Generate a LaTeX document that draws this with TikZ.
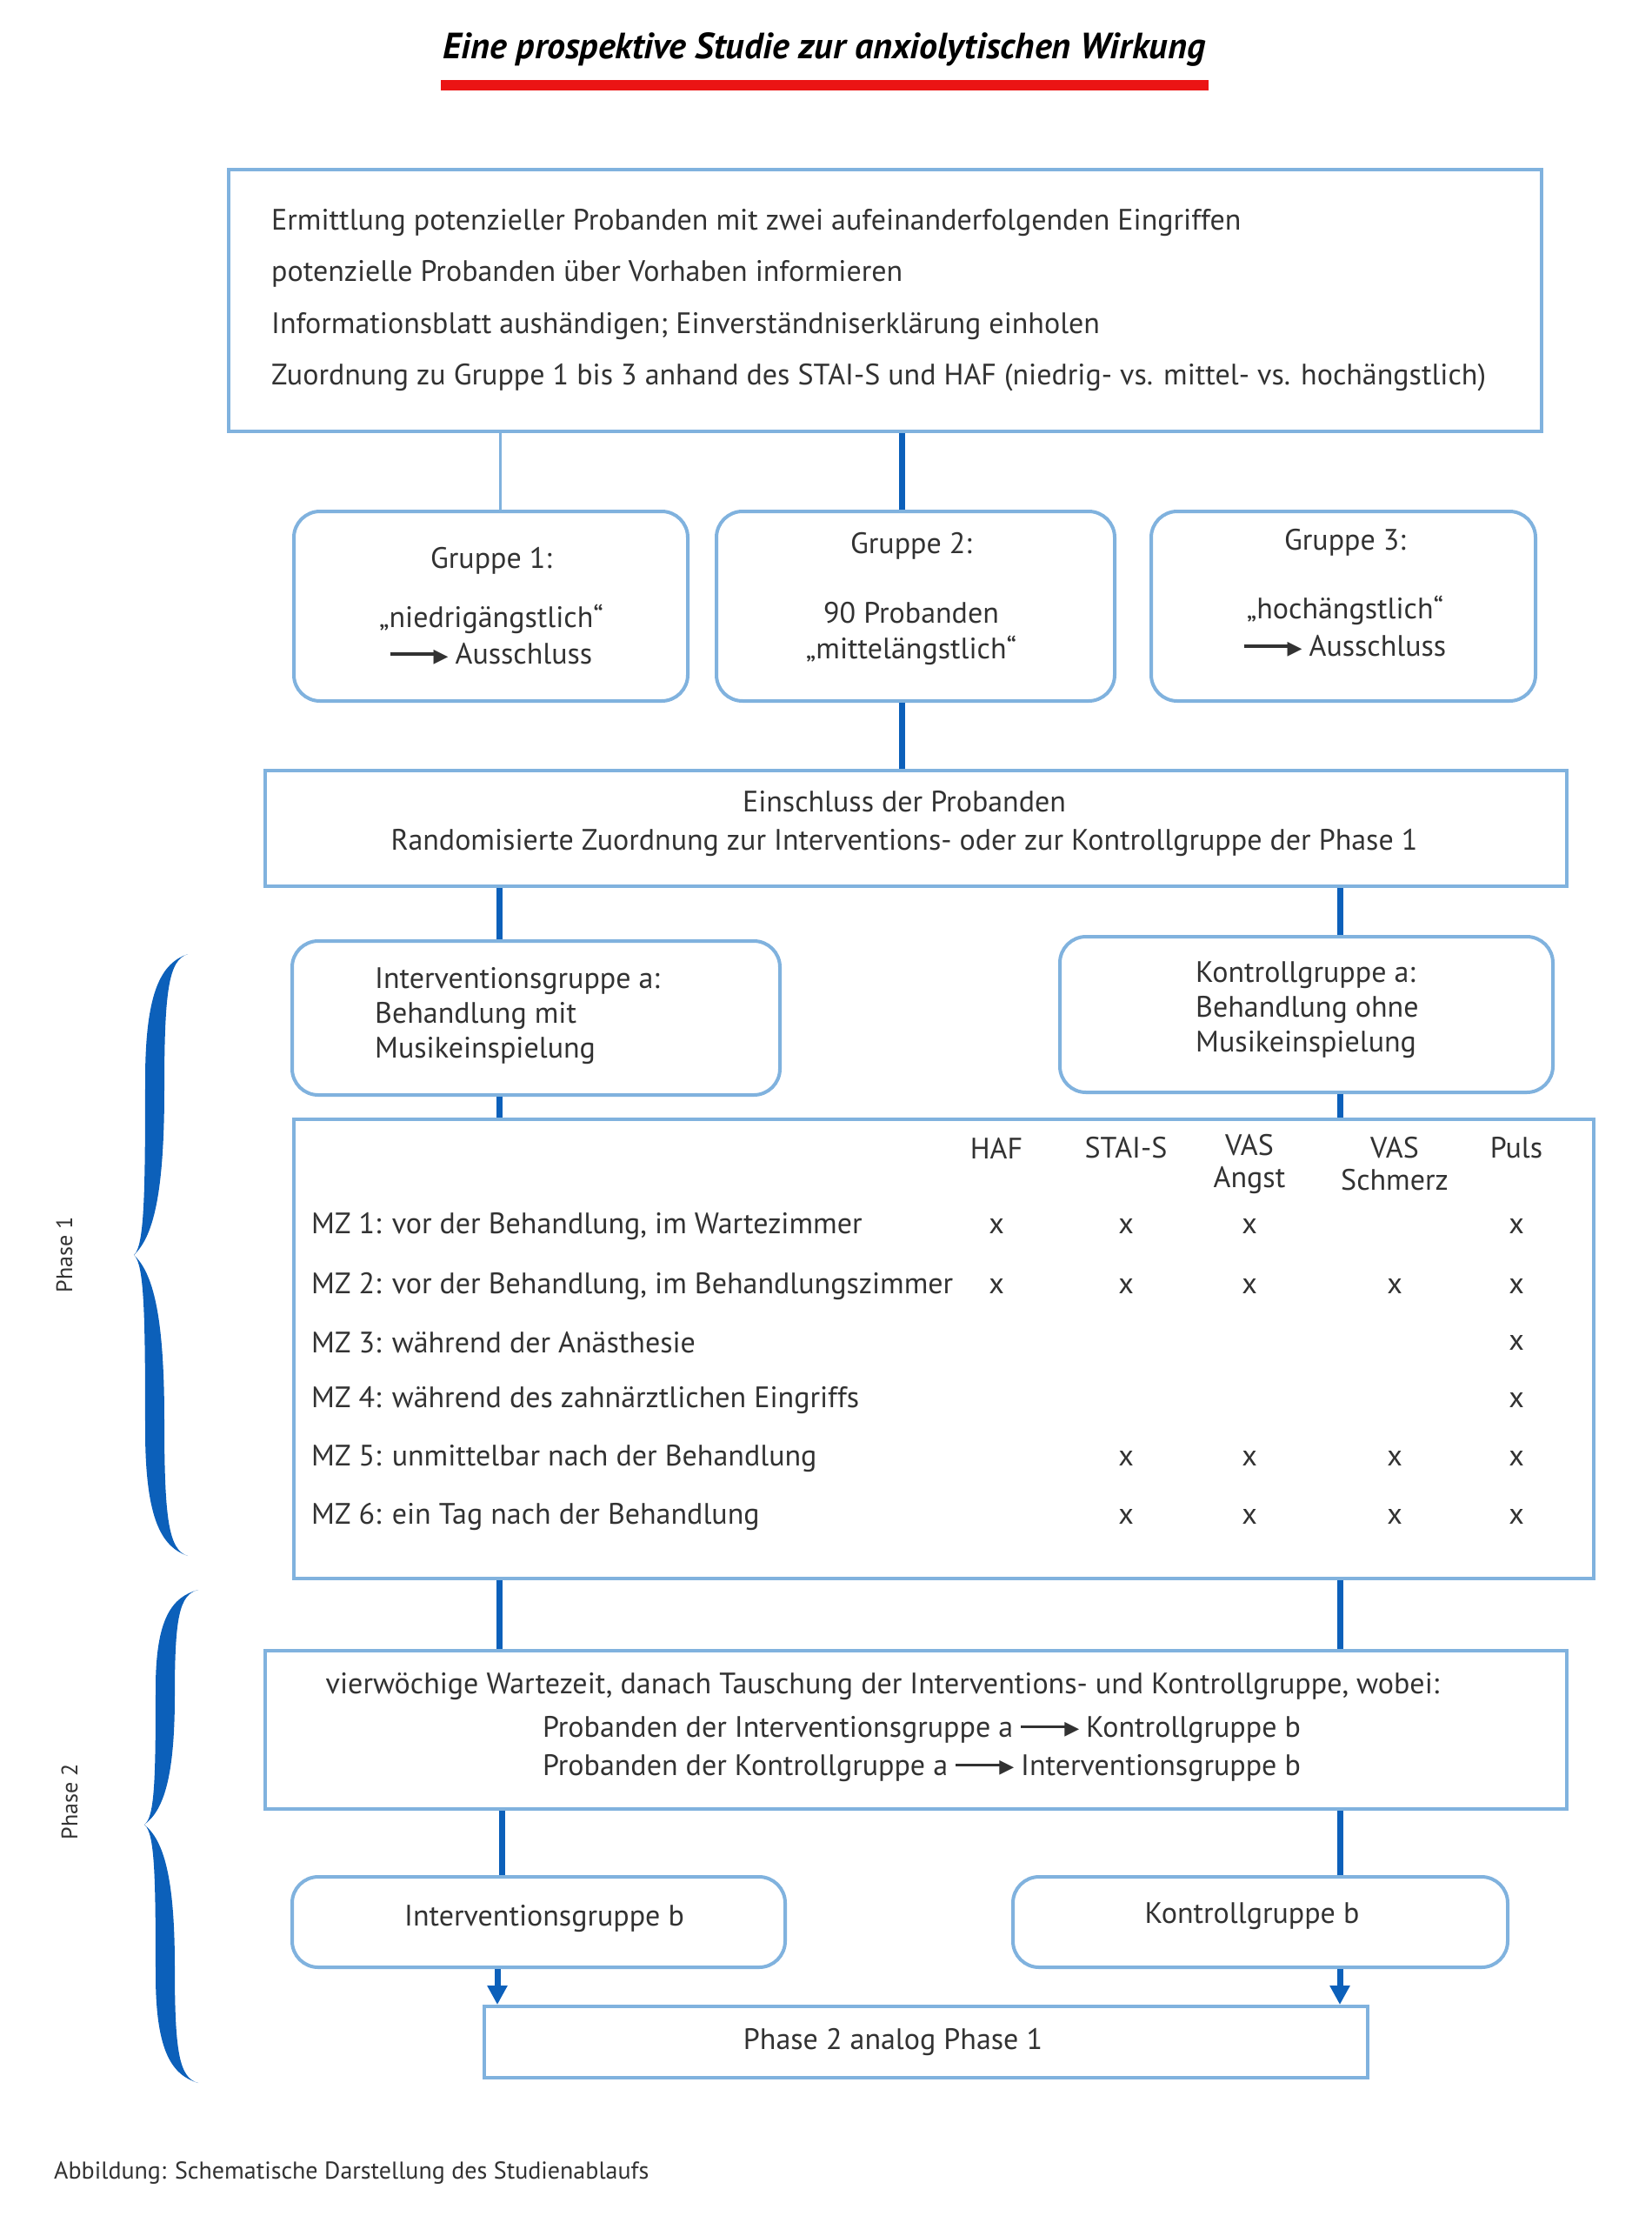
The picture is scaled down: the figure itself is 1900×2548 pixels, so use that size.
\documentclass[tikz,border=0pt]{standalone}
\usepackage{fontspec}
\setmainfont{PT Sans}
\newfontfamily\dejavu{DejaVu Sans}
\usetikzlibrary{arrows.meta}
\definecolor{boxblue}{RGB}{128,178,222}
\definecolor{linkblue}{RGB}{12,96,186}
\definecolor{txtgray}{RGB}{50,50,50}
\definecolor{titlered}{RGB}{235,20,20}
\newcommand{\bodyfont}{\fontsize{34}{40}\selectfont}
\newcommand{\harr}{\raisebox{0.3em}{\rule{52pt}{3.5pt}}\kern-2pt\raisebox{0.08em}{\dejavu\fontsize{22}{22}\selectfont ▶}\kern8pt}
\newcommand{\fancybrace}[5]{%
 \fill[#1] ({#2+38},{#3}) .. controls ({#2+8},{#3+0.03*(#4-#3)}) and ({#2-11},{#3+0.12*(#4-#3)}) .. ({#2-11},{#3+0.42*(#4-#3)})
 .. controls ({#2-11},{#3+0.8*(#4-#3)}) and ({#2-12},{#4-0.03*(#4-#3)}) .. ({#2-24},{#4})
 .. controls ({#2-12},{#4+0.03*(#5-#4)}) and ({#2-11},{#4+0.2*(#5-#4)}) .. ({#2-11},{#5-0.42*(#5-#4)})
 .. controls ({#2-11},{#5-0.12*(#5-#4)}) and ({#2+8},{#5-0.03*(#5-#4)}) .. ({#2+38},{#5})
 .. controls ({#2+16},{#5-0.02*(#5-#4)}) and ({#2+11},{#5-0.12*(#5-#4)}) .. ({#2+11},{#5-0.45*(#5-#4)})
 .. controls ({#2+11},{#4+0.2*(#5-#4)}) and ({#2-2},{#4+0.06*(#5-#4)}) .. ({#2-24},{#4})
 .. controls ({#2-2},{#4-0.06*(#4-#3)}) and ({#2+11},{#3+0.8*(#4-#3)}) .. ({#2+11},{#3+0.45*(#4-#3)})
 .. controls ({#2+11},{#3+0.12*(#4-#3)}) and ({#2+16},{#3+0.02*(#4-#3)}) .. ({#2+38},{#3}) -- cycle;}
\begin{document}
\begin{tikzpicture}[x=1pt,y=-1pt,
  every node/.style={text=txtgray,font=\bodyfont,inner sep=0pt},
  sqbox/.style={draw=boxblue,line width=4pt,fill=white},
  rbox/.style={draw=boxblue,line width=4pt,rounded corners=30pt,fill=white},
  link/.style={draw=linkblue,line width=7pt},
  thinlink/.style={draw=boxblue,line width=3pt},
  arrlink/.style={draw=linkblue,line width=7pt,-{Triangle[length=22pt,width=22pt]}},
  xmk/.style={font=\fontsize{34}{36}\selectfont},
]
\useasboundingbox (0,0) rectangle (1900,2548);
\fill[white] (0,0) rectangle (1900,2548);

% title
\node[font=\fontsize{42}{48}\selectfont\bfseries\itshape,text=black] (title) at (948,57) {Eine prospektive Studie zur anxiolytischen Wirkung};
\fill[titlered] (507,92) rectangle (1390,104);

% top box
\node[sqbox,minimum width=1510pt,minimum height=301pt] (top) at (1018,345.5) {};
\node[align=left,anchor=west,font=\fontsize{34}{59.5}\selectfont] (toptxt) at (312,345) {Ermittlung potenzieller Probanden mit zwei aufeinanderfolgenden Eingriffen\\potenzielle Probanden über Vorhaben informieren\\Informationsblatt aushändigen; Einverständniserklärung einholen\\Zuordnung zu Gruppe 1 bis 3 anhand des STAI-S und HAF (niedrig- vs. mittel- vs. hochängstlich)};

% groups
\node[rbox,minimum width=453pt,minimum height=218pt] (g1) at (564.5,697) {};
\node[rbox,minimum width=458pt,minimum height=218pt] (g2) at (1053,697) {};
\node[rbox,minimum width=442pt,minimum height=218pt] (g3) at (1545,697) {};
\node[align=center,font=\fontsize{34}{42}\selectfont] (g1t) at (565,697) {Gruppe 1:\\[26pt]„niedrigängstlich“\\\harr Ausschluss};
\node[align=center,font=\fontsize{34}{41}\selectfont] (g2t) at (1048,688) {Gruppe 2:\\[39pt]90 Probanden\\„mittelängstlich“};
\node[align=center,font=\fontsize{34}{43}\selectfont] (g3t) at (1547,682) {Gruppe 3:\\[36pt]„hochängstlich“\\\harr Ausschluss};

% Einschluss
\node[sqbox,minimum width=1497pt,minimum height=133pt] (ein) at (1053.5,952.5) {};
\node[align=center,font=\fontsize{34}{44}\selectfont] (eint) at (1040,947) {Einschluss der Probanden\\Randomisierte Zuordnung zur Interventions- oder zur Kontrollgruppe der Phase 1};

% phase 1 groups
\node[rbox,minimum width=561pt,minimum height=177pt] (ia) at (616.5,1170.5) {};
\node[rbox,minimum width=567pt,minimum height=179pt] (ka) at (1502.5,1166.5) {};
\node[align=left,anchor=west,font=\fontsize{34}{40}\selectfont] (iat) at (431,1168) {Interventionsgruppe a:\\Behandlung mit\\Musikeinspielung};
\node[align=left,anchor=west,font=\fontsize{34}{40}\selectfont] (kat) at (1375,1161) {Kontrollgruppe a:\\Behandlung ohne\\Musikeinspielung};

% table
\node[sqbox,minimum width=1495pt,minimum height=528pt] (tab) at (1085.5,1551) {};
\node (hHAF) at (1146,1320) {HAF};
\node (hSTAI) at (1295,1320) {STAI-S};
\node[align=center,font=\fontsize{34}{37}\selectfont] (hVA) at (1437,1338) {VAS\\Angst};
\node[align=center,font=\fontsize{34}{37}\selectfont] (hVS) at (1604,1338) {VAS\\Schmerz};
\node (hPuls) at (1744,1320) {Puls};
\node[anchor=west] (r1) at (358,1410) {MZ 1: vor der Behandlung, im Wartezimmer};
\node[anchor=west] (r2) at (358,1479) {MZ 2: vor der Behandlung, im Behandlungszimmer};
\node[anchor=west] (r3) at (358,1544) {MZ 3: während der Anästhesie};
\node[anchor=west] (r4) at (358,1610) {MZ 4: während des zahnärztlichen Eingriffs};
\node[anchor=west] (r5) at (358,1677) {MZ 5: unmittelbar nach der Behandlung};
\node[anchor=west] (r6) at (358,1744) {MZ 6: ein Tag nach der Behandlung};
\foreach \r/\y/\cols in {1/1410/{1146,1295,1437,1744},2/1479/{1146,1295,1437,1604,1744},3/1544/{1744},4/1610/{1744},5/1677/{1295,1437,1604,1744},6/1744/{1295,1437,1604,1744}}{
  \foreach \c [count=\k] in \cols {\node[xmk] (m\r-\k) at (\c,\y) {x};}
}

% phase 2 box
\node[sqbox,minimum width=1497pt,minimum height=182pt] (p2) at (1053.5,1989) {};
\node (p2a) at (1015,1939) {vierwöchige Wartezeit, danach Tauschung der Interventions- und Kontrollgruppe, wobei:};
\node[align=center,font=\fontsize{34}{44}\selectfont] (p2b) at (1060,2011) {Probanden der Interventionsgruppe a \harr Kontrollgruppe b\\Probanden der Kontrollgruppe a \harr Interventionsgruppe b};

% b groups
\node[rbox,minimum width=567pt,minimum height=104pt] (ib) at (619.5,2210) {};
\node[rbox,minimum width=569pt,minimum height=104pt] (kb) at (1449.5,2210) {};
\node (ibt) at (626,2206) {Interventionsgruppe b};
\node (kbt) at (1440,2203) {Kontrollgruppe b};

% analog box
\node[sqbox,minimum width=1016pt,minimum height=82pt] (an) at (1065,2348) {};
\node (ant) at (1027,2348) {Phase 2 analog Phase 1};

% connectors
\draw[thinlink] (575,0 |- top.south) -- (575,0 |- g1.north);
\draw[link] (1037,0 |- top.south) -- (1037,0 |- g2.north);
\draw[link] (1037,0 |- g2.south) -- (1037,0 |- ein.north);
\draw[link] (574,0 |- ein.south) -- (574,0 |- ia.north);
\draw[link] (1541,0 |- ein.south) -- (1541,0 |- ka.north);
\draw[link] (574,0 |- ia.south) -- (574,0 |- tab.north);
\draw[link] (1541,0 |- ka.south) -- (1541,0 |- tab.north);
\draw[link] (574,0 |- tab.south) -- (574,0 |- p2.north);
\draw[link] (1541,0 |- tab.south) -- (1541,0 |- p2.north);
\draw[link] (577,0 |- p2.south) -- (577,0 |- ib.north);
\draw[link] (1541,0 |- p2.south) -- (1541,0 |- kb.north);
\draw[arrlink] (572,0 |- ib.south) -- (572,0 |- an.north);
\draw[arrlink] (1541,0 |- kb.south) -- (1541,0 |- an.north);

% braces and phase labels
\fancybrace{linkblue}{178}{1097}{1443}{1789}
\fancybrace{linkblue}{190}{1828}{2098}{2395}
\node[rotate=90,font=\fontsize{26}{30}\selectfont] (ph1) at (74,1443) {Phase 1};
\node[rotate=90,font=\fontsize{26}{30}\selectfont] (ph2) at (80,2072) {Phase 2};

% caption
\node[anchor=west,font=\fontsize{28}{32}\selectfont] (cap) at (62,2498) {Abbildung: Schematische Darstellung des Studienablaufs};
\end{tikzpicture}
\end{document}
